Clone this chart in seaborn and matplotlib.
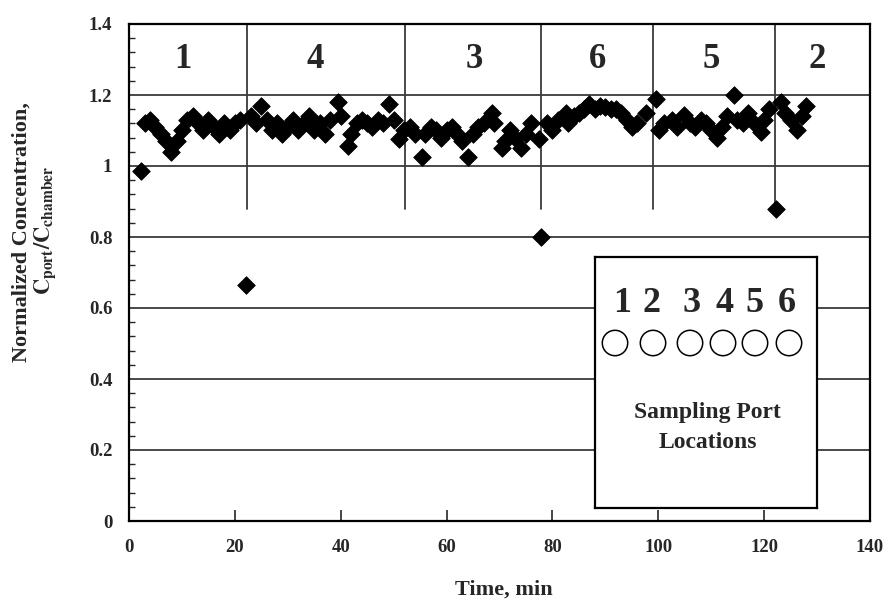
import matplotlib
matplotlib.use("Agg")
import matplotlib.pyplot as plt
import seaborn as sns
import pandas as pd
import numpy as np
from matplotlib.patches import Circle
from matplotlib.ticker import MultipleLocator

# ---------------- data ----------------
time_min = [2.3, 3, 4, 5, 6, 7, 8, 9, 10, 11, 12, 13, 14, 15, 16, 17, 18, 19, 20, 21,
            22.1, 23, 24, 25, 26, 27, 28, 29, 30, 31, 32, 33, 34, 35, 36, 37, 38, 39.4,
            40, 41.3, 42, 43, 44, 45, 46, 47, 48, 49.2, 50, 51.1, 52,
            53, 54, 55.3, 56, 57, 58, 59, 60, 61, 62, 63, 64, 65, 66, 67, 68.5, 69,
            70.4, 71, 72, 73, 74.1, 75, 76, 77.5, 77.9,
            78.9, 80, 81, 82.6, 83, 84, 85, 86, 87, 88, 89, 90, 91, 92.1, 93, 94,
            95.1, 96, 97.7, 99.6,
            100.2, 101, 102.6, 103.5, 104.9, 106, 107, 108, 109, 110, 111.1, 112, 113,
            114.3, 114.9, 116, 117, 118, 119.4, 120, 121,
            122.3, 123.2, 124, 125, 126.2, 127.2, 127.9]
conc_ratio = [0.985, 1.12, 1.13, 1.11, 1.09, 1.07, 1.04, 1.07, 1.10, 1.13, 1.14, 1.12, 1.10, 1.13, 1.11, 1.09, 1.12, 1.10, 1.12, 1.13,
              0.666, 1.14, 1.12, 1.17, 1.13, 1.10, 1.12, 1.09, 1.11, 1.13, 1.10, 1.12, 1.14, 1.10, 1.12, 1.09, 1.13, 1.18,
              1.14, 1.055, 1.09, 1.12, 1.13, 1.12, 1.11, 1.13, 1.12, 1.175, 1.13, 1.075, 1.10,
              1.11, 1.09, 1.025, 1.09, 1.11, 1.10, 1.08, 1.10, 1.11, 1.09, 1.07, 1.025, 1.09, 1.11, 1.12, 1.15, 1.12,
              1.05, 1.07, 1.10, 1.08, 1.05, 1.09, 1.12, 1.075, 0.80,
              1.12, 1.10, 1.13, 1.15, 1.12, 1.14, 1.15, 1.16, 1.175, 1.16, 1.17, 1.165, 1.16, 1.16, 1.15, 1.13,
              1.11, 1.12, 1.15, 1.19,
              1.10, 1.12, 1.13, 1.11, 1.145, 1.12, 1.11, 1.13, 1.12, 1.10, 1.08, 1.11, 1.14,
              1.20, 1.13, 1.12, 1.15, 1.12, 1.095, 1.13, 1.16,
              0.88, 1.18, 1.15, 1.13, 1.10, 1.14, 1.17]

port_change_times = [22.2, 52.1, 77.8, 99.0, 122.0]
segment_label_x = [10.2, 35.1, 65.3, 88.5, 110.0, 130.0]
segment_labels = ["1", "4", "3", "6", "5", "2"]
port_numbers = ["1", "2", "3", "4", "5", "6"]

x_ticks = [0, 20, 40, 60, 80, 100, 120, 140]
y_ticks = [0, 0.2, 0.4, 0.6, 0.8, 1, 1.2, 1.4]
y_tick_labels = ["0", "0.2", "0.4", "0.6", "0.8", "1", "1.2", "1.4"]

df = pd.DataFrame({"time": time_min, "ratio": conc_ratio})

# ---------------- style ----------------
sns.set_theme(style="white")
plt.rcParams["font.family"] = ["Liberation Serif", "DejaVu Serif"]
plt.rcParams["font.weight"] = "bold"
plt.rcParams["mathtext.fontset"] = "stix"

fig = plt.figure(figsize=(8.91, 6.05), dpi=100)
ax = fig.add_axes([129 / 891, 1 - 521 / 605, (870 - 129) / 891, (521 - 24) / 605])

ax.set_xlim(0, 140)
ax.set_ylim(0, 1.4)

# horizontal gridlines
for yv in y_ticks[1:-1]:
    ax.axhline(yv, color="#3a3a3a", lw=1.3, zorder=1)

# port change dividers
for xv in port_change_times:
    ax.axvline(xv, ymin=0.88 / 1.4, ymax=1.0, color="#3a3a3a", lw=1.3, zorder=1)

sns.scatterplot(data=df, x="time", y="ratio", marker="D", s=80, color="black",
                edgecolor="black", linewidth=0.6, ax=ax, zorder=3, legend=False)

for xv, lab in zip(segment_label_x, segment_labels):
    ax.text(xv, 1.30, lab, ha="center", va="center", fontsize=25, fontweight="bold", zorder=4)

ax.set_xticks(x_ticks)
ax.set_xticklabels([str(v) for v in x_ticks], fontsize=13.5, fontweight="bold")
ax.set_yticks(y_ticks)
ax.set_yticklabels(y_tick_labels, fontsize=13.5, fontweight="bold")
ax.yaxis.set_minor_locator(MultipleLocator(0.04))
ax.tick_params(axis="x", which="major", direction="in", length=8, width=1.2, pad=13, bottom=True, top=False)
ax.tick_params(axis="y", which="major", direction="in", length=0, pad=12, left=True)
ax.tick_params(axis="y", which="minor", direction="in", length=4, width=1.0, left=True)
ax.set_xlabel("")
ax.set_ylabel("")

for sp in ax.spines.values():
    sp.set_color("black")
    sp.set_linewidth(1.6)
    sp.set_zorder(5)

fig.text(504 / 891, 1 - 590 / 605, "Time, min", ha="center", va="center",
         fontsize=16, fontweight="bold")
fig.text(22 / 891, 1 - 232 / 605, "Normalized Concentration,", rotation=90,
         ha="center", va="center", fontsize=16, fontweight="bold")
fig.text(45 / 891, 1 - 230 / 605, r"$\mathbf{C_{port}/C_{chamber}}$", rotation=90,
         ha="center", va="center", fontsize=16)

# ---------------- sampling port inset ----------------
bx0, by0, bx1, by1 = 595, 257, 817, 508
iax = fig.add_axes([bx0 / 891, 1 - by1 / 605, (bx1 - bx0) / 891, (by1 - by0) / 605], zorder=6)
iax.set_xlim(0, bx1 - bx0)
iax.set_ylim(by1 - by0, 0)
iax.set_xticks([])
iax.set_yticks([])
iax.set_facecolor("white")
for sp in iax.spines.values():
    sp.set_color("black")
    sp.set_linewidth(1.6)

num_x = [27, 57, 97, 130, 160, 192]
circ_x = [20, 58, 95, 128, 160, 194]
for nx, cx, lab in zip(num_x, circ_x, port_numbers):
    iax.text(nx, 47, lab, ha="center", va="center", fontsize=26, fontweight="bold")
    iax.add_patch(Circle((cx, 86), 12.7, fill=False, edgecolor="black", lw=1.1))
iax.text(112, 156, "Sampling Port", ha="center", va="center", fontsize=17, fontweight="bold")
iax.text(113, 186, "Locations", ha="center", va="center", fontsize=17, fontweight="bold")

fig.savefig("out.png", dpi=100)
